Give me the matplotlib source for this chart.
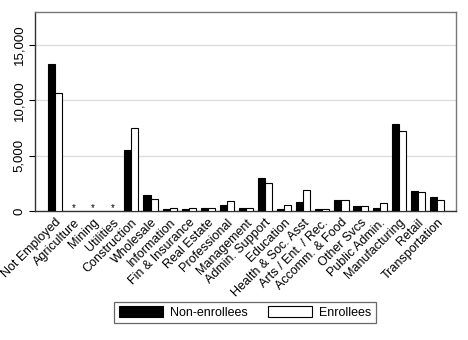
import matplotlib.pyplot as plt
import numpy as np

plt.rcParams['font.family'] = ['Liberation Sans', 'DejaVu Sans']

categories = ["Not Employed", "Agriculture", "Mining", "Utilities", "Construction",
              "Wholesale", "Information", "Fin & Insurance", "Real Estate", "Professional",
              "Management", "Admin. Support", "Education", "Health & Soc. Asst",
              "Arts / Ent. / Rec.", "Accomm. & Food", "Other Svcs", "Public Admin.",
              "Manufacturing", "Retail", "Transportation"]
# None = suppressed (shown as *)
non_enrollees = [13300, None, None, None, 5550, 1450, 150, 210, 270, 570, 230, 2970,
                 210, 790, 150, 970, 480, 270, 7880, 1790, 1245]
enrollees = [10680, None, None, None, 7500, 1090, 240, 250, 250, 880, 230, 2545,
             520, 1940, 180, 970, 420, 700, 7270, 1750, 970]

x = np.arange(len(categories))
w = 0.37
nonenr = np.array([np.nan if v is None else v for v in non_enrollees], dtype=float)
enr = np.array([np.nan if v is None else v for v in enrollees], dtype=float)
suppressed = [i for i, v in enumerate(non_enrollees) if v is None]

fig = plt.figure(figsize=(4.68, 3.4), dpi=100)
ax = fig.add_axes([35 / 468, 1 - 211 / 340, 421 / 468, 199 / 340])

ax.bar(x - w / 2, nonenr, w, color="black", edgecolor="black", linewidth=0.8,
       label="Non-enrollees", zorder=3)
ax.bar(x + w / 2, enr, w, color="white", edgecolor="black", linewidth=0.8,
       label="Enrollees", zorder=3)
for i in suppressed:
    ax.text(i, 280, "*", ha="center", va="center", fontsize=7, zorder=4)

ax.set_xlim(-1.05, 21.0)
ax.set_ylim(0, 18000)
ax.set_yticks([0, 5000, 10000, 15000])
ax.set_yticklabels(["0", "5,000", "10,000", "15,000"], rotation=90, va="center", fontsize=9.5)
ax.yaxis.grid(True, color="#dddddd", linewidth=1.0, zorder=0)
ax.tick_params(axis="y", length=4, width=0.8, pad=3)

ax.set_xticks(x)
ax.set_xticklabels(categories, rotation=45, ha="right", rotation_mode="anchor", fontsize=9)
ax.tick_params(axis="x", length=0, pad=4)

for side in ["left", "bottom"]:
    ax.spines[side].set_color("#333333")
    ax.spines[side].set_linewidth(1.0)
for side in ["top", "right"]:
    ax.spines[side].set_color("#777777")
    ax.spines[side].set_linewidth(1.0)

leg = fig.legend(loc="center", bbox_to_anchor=(245 / 468, 1 - 312.5 / 340), ncol=2,
                 fontsize=9, frameon=True, fancybox=False, edgecolor="#444444",
                 handlelength=3.5, handleheight=0.9, columnspacing=1.6, handletextpad=0.6,
                 borderpad=0.35)
leg.get_frame().set_linewidth(0.9)

fig.savefig("out.png", dpi=100)
